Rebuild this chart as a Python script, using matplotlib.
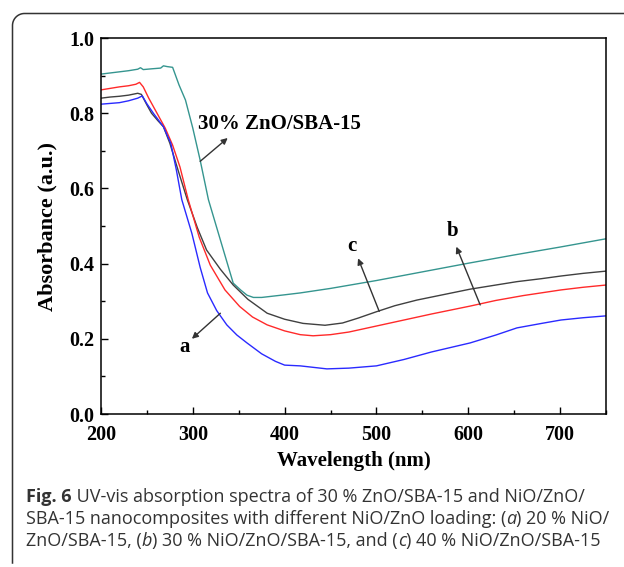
import matplotlib
matplotlib.use("Agg")
import matplotlib.pyplot as plt
import numpy as np
from matplotlib.lines import Line2D
from matplotlib.ticker import MultipleLocator, FormatStrFormatter

# Absorbance spectra (wavelength in nm).
wl_zno = [200, 210, 220, 230, 240, 243, 246, 255, 265, 268, 272, 278, 285,
          292, 300, 308, 317, 330, 344, 352, 359, 366, 375, 400, 417, 450,
          500, 550, 600, 650, 700, 750]
abs_zno = [0.904, 0.907, 0.910, 0.913, 0.917, 0.921, 0.916, 0.918, 0.920,
           0.926, 0.924, 0.922, 0.875, 0.835, 0.760, 0.675, 0.570, 0.463,
           0.348, 0.330, 0.316, 0.310, 0.310, 0.317, 0.322, 0.334, 0.355,
           0.378, 0.401, 0.423, 0.444, 0.466]

wl_c = [200, 210, 220, 230, 240, 244, 250, 255, 262, 268, 275, 285, 294,
        305, 315, 330, 344, 360, 381, 400, 420, 444, 463, 480, 500, 520,
        544, 570, 602, 630, 653, 680, 701, 725, 750]
abs_c = [0.840, 0.843, 0.845, 0.848, 0.853, 0.850, 0.822, 0.800, 0.780,
         0.764, 0.720, 0.640, 0.570, 0.495, 0.436, 0.385, 0.343, 0.305,
         0.268, 0.252, 0.241, 0.236, 0.242, 0.255, 0.272, 0.288, 0.303,
         0.316, 0.332, 0.343, 0.352, 0.360, 0.367, 0.374, 0.380]

wl_b = [200, 210, 220, 230, 238, 242, 246, 252, 261, 270, 278, 286, 295,
        307, 319, 335, 351, 365, 381, 400, 417, 431, 450, 470, 500, 530,
        560, 602, 630, 660, 701, 725, 750]
abs_b = [0.862, 0.866, 0.870, 0.873, 0.877, 0.882, 0.870, 0.840, 0.800,
         0.760, 0.715, 0.657, 0.570, 0.470, 0.396, 0.330, 0.286, 0.258,
         0.237, 0.221, 0.211, 0.208, 0.211, 0.218, 0.234, 0.250, 0.266,
         0.287, 0.302, 0.315, 0.330, 0.337, 0.343]

wl_a = [200, 210, 220, 230, 240, 245, 250, 257, 268, 276, 282, 288, 299,
        308, 316, 326, 337, 348, 359, 375, 390, 400, 417, 446, 470, 500,
        530, 560, 602, 630, 653, 680, 701, 725, 750]
abs_a = [0.824, 0.826, 0.828, 0.833, 0.840, 0.846, 0.825, 0.800, 0.764,
         0.720, 0.650, 0.570, 0.480, 0.390, 0.322, 0.275, 0.237, 0.210,
         0.189, 0.160, 0.140, 0.130, 0.128, 0.120, 0.122, 0.128, 0.145,
         0.165, 0.189, 0.210, 0.229, 0.241, 0.250, 0.256, 0.261]

caption_lines = [
    [("Fig. 6", "bold"),
     (" UV-vis absorption spectra of 30 % ZnO/SBA-15 and NiO/ZnO/", "normal")],
    [("SBA-15 nanocomposites with different NiO/ZnO loading: (", "normal"),
     ("a", "italic"), (") 20 % NiO/", "normal")],
    [("ZnO/SBA-15, (", "normal"), ("b", "italic"),
     (") 30 % NiO/ZnO/SBA-15, and (", "normal"), ("c", "italic"),
     (") 40 % NiO/ZnO/SBA-15", "normal")],
]

W, H = 624, 567


def main():
    plt.rcParams.update({
        "font.family": "Liberation Serif",
        "font.weight": "bold",
        "axes.linewidth": 1.1,
    })
    fig = plt.figure(figsize=(W / 100, H / 100), dpi=100)
    ax = fig.add_axes([101 / W, (H - 414) / H, 505 / W, 376 / H])

    ax.plot(wl_zno, abs_zno, color="#35958f", lw=1.0)
    ax.plot(wl_c, abs_c, color="#404040", lw=1.0)
    ax.plot(wl_b, abs_b, color="#ff2a2a", lw=1.0)
    ax.plot(wl_a, abs_a, color="#2a2aff", lw=1.0)

    ax.set_xlim(200, 750)
    ax.set_ylim(0, 1.0)
    ax.xaxis.set_major_locator(MultipleLocator(100))
    ax.xaxis.set_minor_locator(MultipleLocator(50))
    ax.yaxis.set_major_locator(MultipleLocator(0.2))
    ax.yaxis.set_minor_locator(MultipleLocator(0.1))
    ax.yaxis.set_major_formatter(FormatStrFormatter("%.1f"))
    ax.tick_params(which="both", direction="in", top=False, right=False,
                   labelsize=14.5, width=1.0)
    ax.tick_params(which="major", length=5)
    ax.tick_params(which="minor", length=3)
    ax.tick_params(axis="x", pad=8)
    ax.tick_params(axis="y", pad=5)
    ax.set_xlabel("Wavelength (nm)", fontsize=15, fontweight="bold", labelpad=4)
    ax.set_ylabel("Absorbance (a.u.)", fontsize=16, fontweight="bold", labelpad=8)

    arrow = dict(arrowstyle="-|>", color="#333333", lw=1.0, mutation_scale=9,
                 shrinkA=0, shrinkB=0)
    ax.annotate("", xy=(338, 0.734), xytext=(308, 0.672), arrowprops=arrow)
    ax.annotate("", xy=(299, 0.200), xytext=(330, 0.268), arrowprops=arrow)
    ax.annotate("", xy=(480, 0.414), xytext=(503, 0.273), arrowprops=arrow)
    ax.annotate("", xy=(587, 0.445), xytext=(613, 0.290), arrowprops=arrow)
    ax.text(306, 0.770, "30% ZnO/SBA-15", fontsize=15, va="center", ha="left")
    ax.text(291, 0.178, "a", fontsize=15, ha="center", va="center")
    ax.text(473, 0.447, "c", fontsize=15, ha="center", va="center")
    ax.text(583, 0.487, "b", fontsize=15, ha="center", va="center")

    # rounded frame around figure (top-left corner only)
    r = 12
    x0, y0 = 12.5, 13.5
    th = np.linspace(np.pi, np.pi / 2, 20)
    xs = [x0] + list(x0 + r + r * np.cos(th)) + [W]
    ys = [563] + list(y0 + r - r * np.sin(th)) + [y0]
    fig.add_artist(Line2D(np.array(xs) / W, 1 - np.array(ys) / H,
                          transform=fig.transFigure, color="#333333", lw=1.1))

    # caption with mixed bold / italic pieces
    renderer = fig.canvas.get_renderer()
    cap_kw = dict(family="Open Sans", fontsize=13.0, color="#333333",
                  va="center", ha="left")

    def seg_width(s, style):
        kw = dict(cap_kw)
        kw["fontweight"] = "bold" if style == "bold" else "normal"
        kw["fontstyle"] = "italic" if style == "italic" else "normal"
        t1 = fig.text(0, 0, "I" + s + "I", **kw)
        t2 = fig.text(0, 0, "II", **kw)
        w = (t1.get_window_extent(renderer).width
             - t2.get_window_extent(renderer).width)
        t1.remove()
        t2.remove()
        return w

    for line, ypix in zip(caption_lines, [497, 519, 541]):
        xpix = 26
        for s, style in line:
            fig.text(xpix / W, 1 - ypix / H, s,
                     fontweight="bold" if style == "bold" else "normal",
                     fontstyle="italic" if style == "italic" else "normal",
                     **cap_kw)
            xpix += seg_width(s, style)

    fig.savefig("out.png", dpi=100)
    plt.close(fig)


if __name__ == "__main__":
    main()
